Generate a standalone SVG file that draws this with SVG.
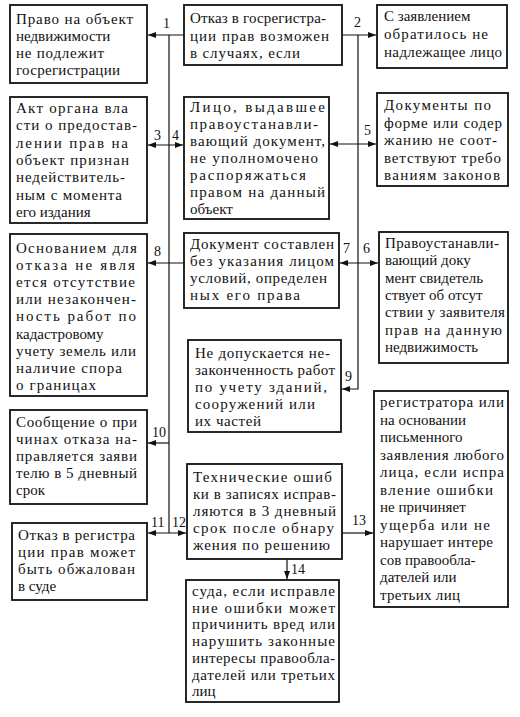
<svg xmlns="http://www.w3.org/2000/svg" width="520" height="717" viewBox="0 0 520 717">
<style>
.box{fill:#fff;stroke:#111;stroke-width:1.8}
text{font-family:"Liberation Serif","Times New Roman",serif;font-size:15px;fill:#111}
.n{font-size:14px}
.c{stroke:#111;stroke-width:1.2;fill:none}
</style>
<defs>
<marker id="ah" viewBox="0 0 8 6" refX="8" refY="3" markerWidth="8" markerHeight="6" markerUnits="userSpaceOnUse" orient="auto-start-reverse">
<path d="M0,0 L8,3 L0,6 Z" fill="#111"/>
</marker>
</defs>
<rect width="520" height="717" fill="#fff"/>

<g id="connectors">
<path class="c" d="M169,35 V533"/>
<path class="c" d="M184,35 H148" marker-end="url(#ah)"/>
<path class="c" d="M148,145 H183" marker-start="url(#ah)" marker-end="url(#ah)"/>
<path class="c" d="M184,263 H148" marker-end="url(#ah)"/>
<path class="c" d="M169,443 H148" marker-end="url(#ah)"/>
<path class="c" d="M148,533 H186" marker-start="url(#ah)" marker-end="url(#ah)"/>
<path class="c" d="M358,35 V389 H342" marker-end="url(#ah)"/>
<path class="c" d="M342,35 H376" marker-end="url(#ah)"/>
<path class="c" d="M330,144 H376" marker-start="url(#ah)" marker-end="url(#ah)"/>
<path class="c" d="M340,263 H378" marker-start="url(#ah)" marker-end="url(#ah)"/>
<path class="c" d="M342,533 H373" marker-end="url(#ah)"/>
<path class="c" d="M287,559 V579" marker-end="url(#ah)"/>
<text class="n" x="163" y="28">1</text>
<text class="n" x="354" y="27">2</text>
<text class="n" x="154" y="140">3</text>
<text class="n" x="172" y="140">4</text>
<text class="n" x="364" y="135">5</text>
<text class="n" x="154" y="256">8</text>
<text class="n" x="343" y="253">7</text>
<text class="n" x="363" y="253">6</text>
<text class="n" x="345" y="381">9</text>
<text class="n" x="152" y="437">10</text>
<text class="n" x="151" y="527">11</text>
<text class="n" x="172" y="527">12</text>
<text class="n" x="352" y="525">13</text>
<text class="n" x="291" y="574">14</text>
</g>

<g id="nodeA">
<rect class="box" x="10" y="5" width="137" height="78"/>
<text x="16" y="24" textLength="117" lengthAdjust="spacing">Право на объект</text>
<text x="16" y="41">недвижимости</text>
<text x="16" y="58" textLength="88" lengthAdjust="spacing">не подлежит</text>
<text x="16" y="75" textLength="104" lengthAdjust="spacing">госрегистрации</text>
</g>

<g id="nodeB">
<rect class="box" x="184" y="5" width="158" height="60"/>
<text x="190" y="23" textLength="136" lengthAdjust="spacing">Отказ в госрегистра-</text>
<text x="190" y="41" textLength="139" lengthAdjust="spacing">ции прав возможен</text>
<text x="190" y="58" textLength="110" lengthAdjust="spacing">в случаях, если</text>
</g>

<g id="nodeC">
<rect class="box" x="377" y="5" width="130" height="63"/>
<text x="384" y="21">С заявлением</text>
<text x="384" y="39" textLength="104" lengthAdjust="spacing">обратилось не</text>
<text x="384" y="57" textLength="118" lengthAdjust="spacing">надлежащее лицо</text>
</g>

<g id="nodeD">
<rect class="box" x="10" y="97" width="137" height="126"/>
<text x="16" y="113" textLength="112" lengthAdjust="spacing">Акт органа вла</text>
<text x="16" y="130.3" textLength="121" lengthAdjust="spacing">сти о предостав-</text>
<text x="16" y="147.6" textLength="112" lengthAdjust="spacing">лении прав на</text>
<text x="16" y="164.9" textLength="113" lengthAdjust="spacing">объект признан</text>
<text x="16" y="182.2" textLength="109" lengthAdjust="spacing">недействитель-</text>
<text x="16" y="199.5" textLength="106" lengthAdjust="spacing">ным с момента</text>
<text x="16" y="216.8">его издания</text>
</g>

<g id="nodeE">
<rect class="box" x="184" y="97" width="145" height="122"/>
<text x="190" y="112" textLength="135" lengthAdjust="spacing">Лицо, выдавшее</text>
<text x="190" y="129" textLength="128" lengthAdjust="spacing">правоустанавли-</text>
<text x="190" y="146" textLength="135" lengthAdjust="spacing">вающий документ,</text>
<text x="190" y="163" textLength="128" lengthAdjust="spacing">не уполномочено</text>
<text x="190" y="180" textLength="116" lengthAdjust="spacing">распоряжаться</text>
<text x="190" y="197" textLength="135" lengthAdjust="spacing">правом на данный</text>
<text x="190" y="214">объект</text>
</g>

<g id="nodeF">
<rect class="box" x="377" y="93" width="131" height="93"/>
<text x="384" y="110" textLength="107" lengthAdjust="spacing">Документы по</text>
<text x="384" y="127.5" textLength="118" lengthAdjust="spacing">форме или содер</text>
<text x="384" y="145" textLength="113" lengthAdjust="spacing">жанию не соот-</text>
<text x="384" y="162.5" textLength="117" lengthAdjust="spacing">ветствуют требо</text>
<text x="384" y="180" textLength="116" lengthAdjust="spacing">ваниям законов</text>
</g>

<g id="nodeG">
<rect class="box" x="10" y="234" width="137" height="162"/>
<text x="16" y="253" textLength="121" lengthAdjust="spacing">Основанием для</text>
<text x="16" y="270.1" textLength="119" lengthAdjust="spacing">отказа не явля</text>
<text x="16" y="287.2" textLength="119" lengthAdjust="spacing">ется отсутствие</text>
<text x="16" y="304.3" textLength="120" lengthAdjust="spacing">или незакончен-</text>
<text x="16" y="321.4" textLength="120" lengthAdjust="spacing">ность работ по</text>
<text x="16" y="338.5">кадастровому</text>
<text x="16" y="355.6" textLength="120" lengthAdjust="spacing">учету земель или</text>
<text x="16" y="372.7" textLength="106" lengthAdjust="spacing">наличие спора</text>
<text x="16" y="389.8" textLength="80" lengthAdjust="spacing">о границах</text>
</g>

<g id="nodeH">
<rect class="box" x="184" y="233" width="155" height="75"/>
<text x="190" y="249" textLength="144" lengthAdjust="spacing">Документ составлен</text>
<text x="190" y="266" textLength="144" lengthAdjust="spacing">без указания лицом</text>
<text x="190" y="283" textLength="137" lengthAdjust="spacing">условий, определен</text>
<text x="190" y="300" textLength="110" lengthAdjust="spacing">ных его права</text>
</g>

<g id="nodeI">
<rect class="box" x="379" y="232" width="129" height="131"/>
<text x="385" y="248" textLength="114" lengthAdjust="spacing">Правоустанавли-</text>
<text x="385" y="265.3">вающий доку</text>
<text x="385" y="282.6">мент свидетель</text>
<text x="385" y="299.9">ствует об отсут</text>
<text x="385" y="317.2" textLength="120" lengthAdjust="spacing">ствии у заявителя</text>
<text x="385" y="334.5" textLength="117" lengthAdjust="spacing">прав на данную</text>
<text x="385" y="351.8">недвижимость</text>
</g>

<g id="nodeJ">
<rect class="box" x="188" y="340" width="153" height="92"/>
<text x="195" y="358" textLength="135" lengthAdjust="spacing">Не допускается не-</text>
<text x="195" y="375" textLength="140" lengthAdjust="spacing">законченность работ</text>
<text x="195" y="392" textLength="132" lengthAdjust="spacing">по учету зданий,</text>
<text x="195" y="409" textLength="120" lengthAdjust="spacing">сооружений или</text>
<text x="195" y="426" textLength="66" lengthAdjust="spacing">их частей</text>
</g>

<g id="nodeK">
<rect class="box" x="10" y="410" width="137" height="94"/>
<text x="16" y="427" textLength="121" lengthAdjust="spacing">Сообщение о при</text>
<text x="16" y="444" textLength="121" lengthAdjust="spacing">чинах отказа на-</text>
<text x="16" y="461" textLength="121" lengthAdjust="spacing">правляется заяви</text>
<text x="16" y="478" textLength="121" lengthAdjust="spacing">телю в 5 дневный</text>
<text x="16" y="495">срок</text>
</g>

<g id="nodeL">
<rect class="box" x="187" y="464" width="155" height="95"/>
<text x="193" y="482" textLength="139" lengthAdjust="spacing">Технические ошиб</text>
<text x="193" y="499" textLength="143" lengthAdjust="spacing">ки в записях исправ-</text>
<text x="193" y="516" textLength="143" lengthAdjust="spacing">ляются в 3 дневный</text>
<text x="193" y="533" textLength="141" lengthAdjust="spacing">срок после обнару</text>
<text x="193" y="550" textLength="137" lengthAdjust="spacing">жения по решению</text>
</g>

<g id="nodeM">
<rect class="box" x="374" y="391" width="134" height="216"/>
<text x="380" y="407" textLength="124" lengthAdjust="spacing">регистратора или</text>
<text x="380" y="424.5">на основании</text>
<text x="380" y="442">письменного</text>
<text x="380" y="459.5" textLength="124" lengthAdjust="spacing">заявления любого</text>
<text x="380" y="477" textLength="124" lengthAdjust="spacing">лица, если испра</text>
<text x="380" y="494.5" textLength="113" lengthAdjust="spacing">вление ошибки</text>
<text x="380" y="512">не причиняет</text>
<text x="380" y="529.5" textLength="110" lengthAdjust="spacing">ущерба или не</text>
<text x="380" y="547" textLength="113" lengthAdjust="spacing">нарушает интере</text>
<text x="380" y="564.5">сов правообла-</text>
<text x="380" y="582">дателей или</text>
<text x="380" y="599.5" textLength="80" lengthAdjust="spacing">третьих лиц</text>
</g>

<g id="nodeN">
<rect class="box" x="12" y="523" width="135" height="77"/>
<text x="18" y="540" textLength="117" lengthAdjust="spacing">Отказ в регистра</text>
<text x="18" y="557" textLength="117" lengthAdjust="spacing">ции прав может</text>
<text x="18" y="574" textLength="117" lengthAdjust="spacing">быть обжалован</text>
<text x="18" y="591">в суде</text>
</g>

<g id="nodeO">
<rect class="box" x="186" y="580" width="153" height="122"/>
<text x="192" y="596" textLength="143" lengthAdjust="spacing">суда, если исправле</text>
<text x="192" y="612.7" textLength="143" lengthAdjust="spacing">ние ошибки может</text>
<text x="192" y="629.4" textLength="143" lengthAdjust="spacing">причинить вред или</text>
<text x="192" y="646.1" textLength="143" lengthAdjust="spacing">нарушить законные</text>
<text x="192" y="662.8" textLength="143" lengthAdjust="spacing">интересы правообла-</text>
<text x="192" y="679.5" textLength="143" lengthAdjust="spacing">дателей или третьих</text>
<text x="192" y="696.2">лиц</text>
</g>
</svg>
